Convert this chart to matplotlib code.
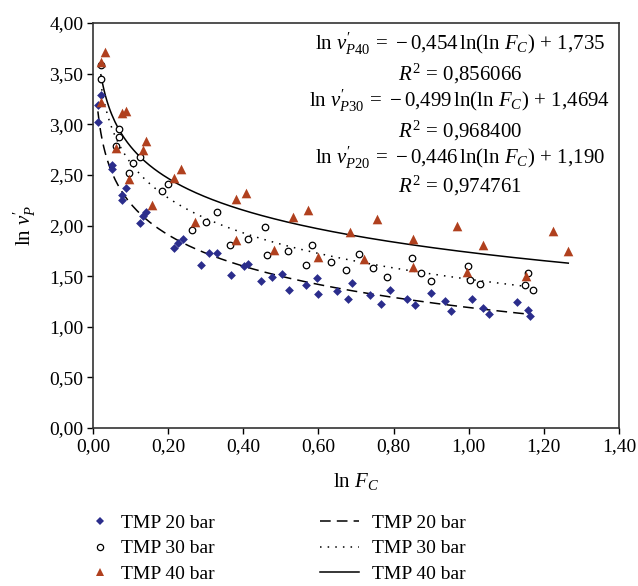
import numpy as np
import matplotlib
matplotlib.use('Agg')
import matplotlib.pyplot as plt
from matplotlib.lines import Line2D
from matplotlib.ticker import FuncFormatter

plt.rcParams['font.family'] = 'Liberation Serif'
plt.rcParams['mathtext.fontset'] = 'custom'
plt.rcParams['mathtext.rm'] = 'Liberation Serif'
plt.rcParams['mathtext.it'] = 'Liberation Serif:italic'
plt.rcParams['mathtext.bf'] = 'Liberation Serif:bold'

# TMP 20 bar (diamantes)
x20 = [0.013, 0.013, 0.021, 0.050, 0.050, 0.078, 0.078, 0.088, 0.125, 0.132,
       0.141, 0.216, 0.225, 0.240, 0.287, 0.309, 0.331, 0.367, 0.403, 0.413,
       0.446, 0.477, 0.502, 0.522, 0.567, 0.595, 0.600, 0.649, 0.680, 0.689,
       0.737, 0.767, 0.791, 0.835, 0.857, 0.899, 0.937, 0.953, 1.008, 1.039,
       1.055, 1.128, 1.157, 1.163]
y20 = [3.19, 3.02, 3.29, 2.60, 2.56, 2.30, 2.25, 2.37, 2.02, 2.09,
       2.13, 1.78, 1.83, 1.87, 1.61, 1.73, 1.73, 1.51, 1.60, 1.62,
       1.45, 1.49, 1.52, 1.36, 1.41, 1.48, 1.32, 1.35, 1.27, 1.43,
       1.31, 1.22, 1.36, 1.27, 1.21, 1.33, 1.25, 1.16, 1.27, 1.19,
       1.13, 1.24, 1.17, 1.11]

# TMP 30 bar (circulos)
x30 = [0.020, 0.020, 0.060, 0.069, 0.069, 0.095, 0.106, 0.125, 0.184, 0.199,
       0.263, 0.300, 0.330, 0.365, 0.412, 0.458, 0.464, 0.520, 0.566, 0.584,
       0.633, 0.673, 0.709, 0.746, 0.783, 0.850, 0.873, 0.900, 0.997, 1.004,
       1.030, 1.150, 1.159, 1.172]
y30 = [3.59, 3.45, 2.79, 2.95, 2.87, 2.52, 2.62, 2.68, 2.34, 2.41,
       1.96, 2.03, 2.13, 1.81, 1.87, 1.99, 1.71, 1.75, 1.61, 1.81,
       1.64, 1.56, 1.72, 1.58, 1.49, 1.68, 1.53, 1.45, 1.60, 1.46,
       1.42, 1.41, 1.53, 1.36]

# TMP 40 bar (triangulos)
x40 = [0.021, 0.032, 0.021, 0.061, 0.078, 0.089, 0.097, 0.132, 0.141, 0.158,
       0.216, 0.233, 0.271, 0.380, 0.406, 0.380, 0.483, 0.532, 0.573, 0.600,
       0.684, 0.722, 0.757, 0.851, 0.851, 0.970, 0.995, 1.039, 1.152, 1.224,
       1.265]
y40 = [3.61, 3.71, 3.22, 2.77, 3.11, 3.13, 2.46, 2.75, 2.83, 2.20,
       2.47, 2.56, 2.03, 2.26, 2.32, 1.86, 1.76, 2.08, 2.15, 1.69,
       1.94, 1.67, 2.06, 1.87, 1.59, 2.00, 1.54, 1.81, 1.50, 1.95,
       1.75]

# coeficientes das linhas de tendencia: y = a*ln(x) + b
coef_a = [-0.446, -0.499, -0.454]
coef_b = [1.190, 1.4694, 1.735]

equacoes = [r"$\ln\,\nu^{\prime}_{P40}\,=\,-0{,}454\,\ln(\ln\,F_C)\,+\,1{,}735$",
            r"$R^2\,=\,0{,}856066$",
            r"$\ln\,\nu^{\prime}_{P30}\,=\,-0{,}499\,\ln(\ln\,F_C)\,+\,1{,}4694$",
            r"$R^2\,=\,0{,}968400$",
            r"$\ln\,\nu^{\prime}_{P20}\,=\,-0{,}446\,\ln(\ln\,F_C)\,+\,1{,}190$",
            r"$R^2\,=\,0{,}974761$"]

W, H = 638, 586
fig = plt.figure(figsize=(W / 100, H / 100), dpi=100)
ax = fig.add_axes([93 / W, 1 - 428 / H, (619 - 93) / W, (428 - 23) / H])

azul = '#2b2d8c'
vermelho = '#b0401e'

ax.scatter(x20, y20, marker='D', s=20, color=azul, linewidths=0, zorder=3)
ax.scatter(x30, y30, marker='o', s=22, facecolor='white', edgecolor='black',
           linewidths=0.9, zorder=3)
ax.scatter(x40, y40, marker='^', s=48, color=vermelho, linewidths=0, zorder=3)

estilos = [(0, (7, 4)), (0, (1, 4)), '-']
for xs, a, b, ls in zip([x20, x30, x40], coef_a, coef_b, estilos):
    xx = np.linspace(min(xs), max(xs), 300)
    ax.plot(xx, a * np.log(xx) + b, color='black', lw=1.1, ls=ls, zorder=2)

ax.set_xlim(0, 1.4)
ax.set_ylim(0, 4)
ax.set_xticks(np.arange(0, 1.41, 0.2))
ax.set_yticks(np.arange(0, 4.01, 0.5))
virgula = FuncFormatter(lambda v, p: f"{v:.2f}".replace('.', ','))
ax.xaxis.set_major_formatter(virgula)
ax.yaxis.set_major_formatter(virgula)
ax.tick_params(direction='out', length=4, width=1, labelsize=14, pad=3)
for s in ax.spines.values():
    s.set_linewidth(1.2)
    s.set_color('#333333')

ax.set_xlabel(r"$\ln\,F_C$", fontsize=15, labelpad=12)
ax.set_ylabel(r"$\ln\,\nu^{\prime}_P$", fontsize=15, labelpad=8)

bases = [50, 80, 107, 137, 164, 192]
for txt, yb in zip(equacoes, bases):
    fig.text(460 / W, 1 - yb / H, txt, ha='center', va='baseline', fontsize=15)

h1 = [Line2D([], [], ls='none', marker='D', ms=4.5, color=azul, mew=0),
      Line2D([], [], ls='none', marker='o', ms=4.5, mfc='white', mec='black', mew=0.9),
      Line2D([], [], ls='none', marker='^', ms=6, color=vermelho, mew=0)]
h2 = [Line2D([], [], color='black', lw=1.1, ls=estilos[0]),
      Line2D([], [], color='black', lw=1.1, ls=estilos[1]),
      Line2D([], [], color='black', lw=1.1, ls=estilos[2])]
rotulos = ['TMP 20 bar', 'TMP 30 bar', 'TMP 40 bar']

fig.legend(h1, rotulos, loc='upper left', bbox_to_anchor=(88 / W, 1 - 514 / H),
           frameon=False, fontsize=14, handlelength=1.2, handletextpad=0.5,
           labelspacing=0.42, borderpad=0, borderaxespad=0)
fig.legend(h2, rotulos, loc='upper left', bbox_to_anchor=(320 / W, 1 - 514 / H),
           frameon=False, fontsize=14, handlelength=2.0, handletextpad=0.7,
           labelspacing=0.42, borderpad=0, borderaxespad=0)

fig.savefig('out.png', dpi=100)
